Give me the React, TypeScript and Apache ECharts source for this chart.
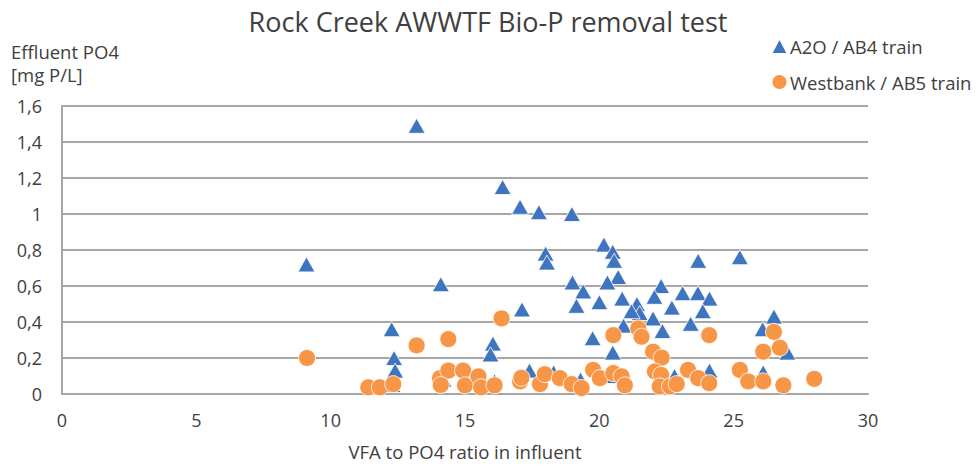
import React, { useEffect, useRef } from "react";
import * as echarts from "echarts";

const chartTitle = "Rock Creek AWWTF Bio-P removal test";
const yAxisTitle = "Effluent PO4\n[mg P/L]";
const xAxisTitle = "VFA to PO4 ratio in influent";
const seriesNames = ["A2O / AB4 train", "Westbank / AB5 train"];

const a2oAB4: [number, number][] = [
  [9.1, 0.72], [13.2, 1.49], [16.4, 1.15], [17.05, 1.04], [17.75, 1.01],
  [18.0, 0.78], [18.05, 0.73], [18.98, 1.0], [14.1, 0.61], [17.12, 0.47],
  [12.27, 0.36], [12.36, 0.2], [12.4, 0.13], [16.04, 0.28], [15.95, 0.22],
  [20.17, 0.83], [20.5, 0.79], [20.55, 0.74], [20.7, 0.65], [19.0, 0.62],
  [19.4, 0.57], [20.3, 0.62], [19.15, 0.49], [20.0, 0.51], [20.85, 0.53],
  [21.4, 0.5], [21.5, 0.45], [22.3, 0.6], [22.05, 0.54], [22.7, 0.48],
  [23.1, 0.56], [23.4, 0.39], [23.68, 0.74], [22.0, 0.42], [22.35, 0.35],
  [20.9, 0.38], [19.75, 0.31], [20.5, 0.23], [23.67, 0.56], [24.1, 0.53],
  [23.85, 0.46], [25.23, 0.76], [26.5, 0.43], [26.08, 0.36], [27.0, 0.23],
  [21.2, 0.46], [17.4, 0.13], [18.3, 0.12], [19.3, 0.08], [20.5, 0.1],
  [24.1, 0.13], [26.1, 0.12], [12.3, 0.05], [14.2, 0.08], [16.1, 0.07],
  [22.8, 0.1],
];

const westbankAB5: [number, number][] = [
  [9.12, 0.2], [13.2, 0.27], [14.38, 0.305], [16.36, 0.42], [11.4, 0.037],
  [11.83, 0.037], [12.33, 0.055], [14.07, 0.088], [14.38, 0.13], [14.93, 0.13],
  [14.1, 0.05], [15.0, 0.048], [15.5, 0.098], [15.6, 0.037], [16.1, 0.048],
  [17.05, 0.07], [17.1, 0.09], [17.79, 0.055], [17.97, 0.11], [18.53, 0.088],
  [18.97, 0.055], [19.34, 0.033], [19.77, 0.134], [20.02, 0.088], [20.52, 0.116],
  [20.83, 0.098], [20.95, 0.048], [20.52, 0.327], [21.45, 0.364], [21.57, 0.318],
  [24.09, 0.327], [22.0, 0.235], [22.32, 0.202], [22.07, 0.125], [22.3, 0.106],
  [22.25, 0.042], [22.63, 0.042], [22.88, 0.055], [23.3, 0.134], [23.68, 0.088],
  [24.09, 0.06], [25.23, 0.134], [25.54, 0.07], [26.1, 0.235], [26.1, 0.07],
  [26.5, 0.345], [26.72, 0.257], [26.85, 0.048], [28.0, 0.084],
];

const FONT = "'Open Sans', sans-serif";
const TEXT = "#404040";
const GRID = "#A6A6A6";

export default function App() {
  const ref = useRef<HTMLDivElement>(null);
  useEffect(() => {
    if (!ref.current) return;
    const chart = echarts.init(ref.current, undefined, { renderer: "svg" });
    chart.setOption({
      animation: false,
      backgroundColor: "#fff",
      textStyle: { fontFamily: FONT },
      title: [
        {
          text: chartTitle,
          left: "center",
          top: 3,
          textStyle: { fontFamily: FONT, fontSize: 27, fontWeight: "normal", color: TEXT },
        },
        {
          text: yAxisTitle,
          left: 6,
          top: 35,
          textStyle: { fontFamily: FONT, fontSize: 18.5, fontWeight: "normal", color: TEXT, lineHeight: 23 },
        },
      ],
      legend: {
        orient: "vertical",
        left: 765,
        top: 30,
        itemGap: 14,
        itemWidth: 17,
        itemHeight: 16,
        textStyle: { fontFamily: FONT, fontSize: 18.5, color: TEXT, padding: [0, 0, 0, -3], lineHeight: 22 },
        data: [
          { name: seriesNames[0], icon: "triangle" },
          { name: seriesNames[1], icon: "circle" },
        ],
      },
      grid: { left: 62, right: 108, top: 106, bottom: 70, containLabel: false },
      xAxis: {
        type: "value",
        min: 0,
        max: 30,
        interval: 5,
        name: xAxisTitle,
        nameLocation: "middle",
        nameGap: 48,
        nameTextStyle: { fontFamily: FONT, fontSize: 18.5, color: TEXT },
        axisLine: { show: true, onZero: false, lineStyle: { color: GRID, width: 2 } },
        axisTick: { show: false },
        splitLine: { show: false },
        axisLabel: { fontFamily: FONT, fontSize: 18, color: TEXT, margin: 17 },
      },
      yAxis: {
        type: "value",
        min: 0,
        max: 1.6,
        interval: 0.2,
        axisLine: { show: true, lineStyle: { color: GRID, width: 2 } },
        axisTick: { show: false },
        splitLine: { show: true, lineStyle: { color: GRID, width: 2 } },
        axisLabel: {
          fontFamily: FONT,
          fontSize: 18,
          color: TEXT,
          margin: 20,
          formatter: (v: number) => String(Math.round(v * 10) / 10).replace(".", ","),
        },
      },
      series: [
        {
          name: seriesNames[0],
          type: "scatter",
          symbol: "triangle",
          symbolSize: [17, 15],
          itemStyle: { color: "#3F74BF", borderColor: "#fff", borderWidth: 0.8, opacity: 1 },
          data: a2oAB4,
        },
        {
          name: seriesNames[1],
          type: "scatter",
          symbol: "circle",
          symbolSize: 17,
          itemStyle: { color: "#F79646", borderColor: "#fff", borderWidth: 0.8, opacity: 1 },
          data: westbankAB5,
        },
      ],
    });
    return () => chart.dispose();
  }, []);
  return (
    <div
      ref={ref}
      style={{ position: "fixed", left: 0, top: 0, width: 976, height: 466 }}
    />
  );
}
